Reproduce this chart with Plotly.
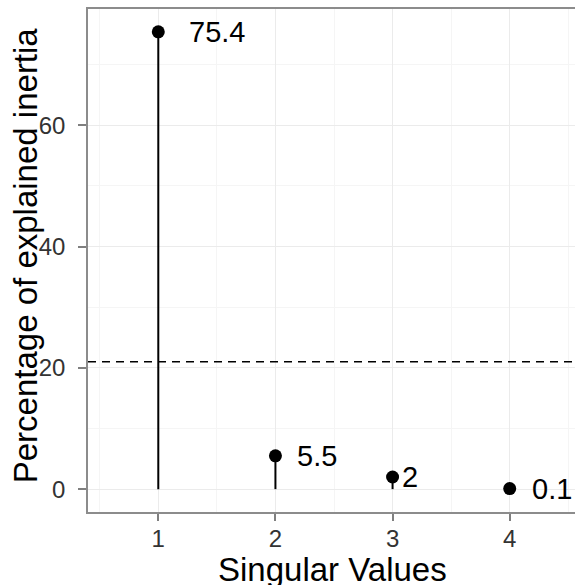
import plotly.graph_objects as go

# ---- data ----
components = [1, 2, 3, 4]
inertia_pct = [75.4, 5.5, 2.0, 0.1]
value_labels = ["75.4", "5.5", "2", "0.1"]
threshold = 21.0
x_ticks = [1, 2, 3, 4]
y_ticks = [0, 20, 40, 60]

# ---- styles ----
label_shift = [29, 20, 7, 20]
FONT = "Liberation Sans, Arial, Helvetica, sans-serif"
BORDER = "#8c8c8c"
W, H = 582, 585          # panel's right edge lies just past the 575px window
L, R, T, B = 88, 0, 9, 73
PW, PH = W - L - R, H - T - B


def px_x(p):  # pixel -> paper x
    return (p - L) / PW


def px_y(p):  # pixel -> paper y
    return (H - B - p) / PH


fig = go.Figure()

# lollipop stems
for xv, yv in zip(components, inertia_pct):
    fig.add_trace(go.Scatter(x=[xv, xv], y=[0, yv], mode="lines",
                             line=dict(color="black", width=2),
                             hoverinfo="skip", showlegend=False))

# points
fig.add_trace(go.Scatter(x=components, y=inertia_pct, mode="markers",
                         marker=dict(color="black", size=13),
                         hoverinfo="skip", showlegend=False))

# dashed threshold line
fig.add_hline(y=threshold, line=dict(color="black", width=1.6, dash="8px,6px"))

# value labels
for xv, yv, lab, sh in zip(components, inertia_pct, value_labels, label_shift):
    fig.add_annotation(x=xv, y=yv, text=lab, showarrow=False, xanchor="left",
                       yanchor="middle", xshift=sh,
                       font=dict(family=FONT, size=29, color="black"))

# axis titles
fig.add_annotation(xref="paper", yref="paper", x=px_x(25), y=px_y(255),
                   text="Percentage of explained inertia", textangle=-90, showarrow=False,
                   xanchor="center", yanchor="middle",
                   font=dict(family=FONT, size=33, color="black"))
fig.add_annotation(xref="paper", yref="paper", x=px_x(333), y=px_y(569),
                   text="Singular Values", showarrow=False,
                   xanchor="center", yanchor="middle",
                   font=dict(family=FONT, size=33, color="black"))

fig.update_layout(
    width=W, height=H,
    margin=dict(l=L, r=R, t=T, b=B, pad=0),
    paper_bgcolor="white", plot_bgcolor="white",
    font=dict(family=FONT),
    showlegend=False,
    hovermode=False,
    xaxis=dict(range=[0.4, 4.6], tickvals=x_ticks, ticktext=[str(v) for v in x_ticks],
               showgrid=True, gridcolor="#ebebeb", gridwidth=1.2,
               minor=dict(dtick=0.5, tick0=0.5, showgrid=True, gridcolor="#f5f5f5", gridwidth=1),
               ticks="outside", ticklen=7, tickwidth=1.5, tickcolor="#7f7f7f",
               ticklabelstandoff=-3,
               tickfont=dict(family=FONT, size=24, color="#333333"),
               showline=True, linecolor=BORDER, linewidth=1.5, mirror=True,
               zeroline=False, fixedrange=True),
    yaxis=dict(range=[-3.77, 79.17], tickvals=y_ticks, ticktext=[str(v) for v in y_ticks],
               showgrid=True, gridcolor="#ebebeb", gridwidth=1.2,
               minor=dict(dtick=10, tick0=10, showgrid=True, gridcolor="#f5f5f5", gridwidth=1),
               ticks="outside", ticklen=8, tickwidth=1.5, tickcolor="#7f7f7f",
               ticklabelstandoff=8,
               tickfont=dict(family=FONT, size=24, color="#333333"),
               showline=True, linecolor=BORDER, linewidth=1.5, mirror=True,
               zeroline=False, fixedrange=True),
)

fig.write_html("out.html", config={"displayModeBar": False},
               post_script="document.body.style.margin='0';document.body.style.overflow='hidden';")
